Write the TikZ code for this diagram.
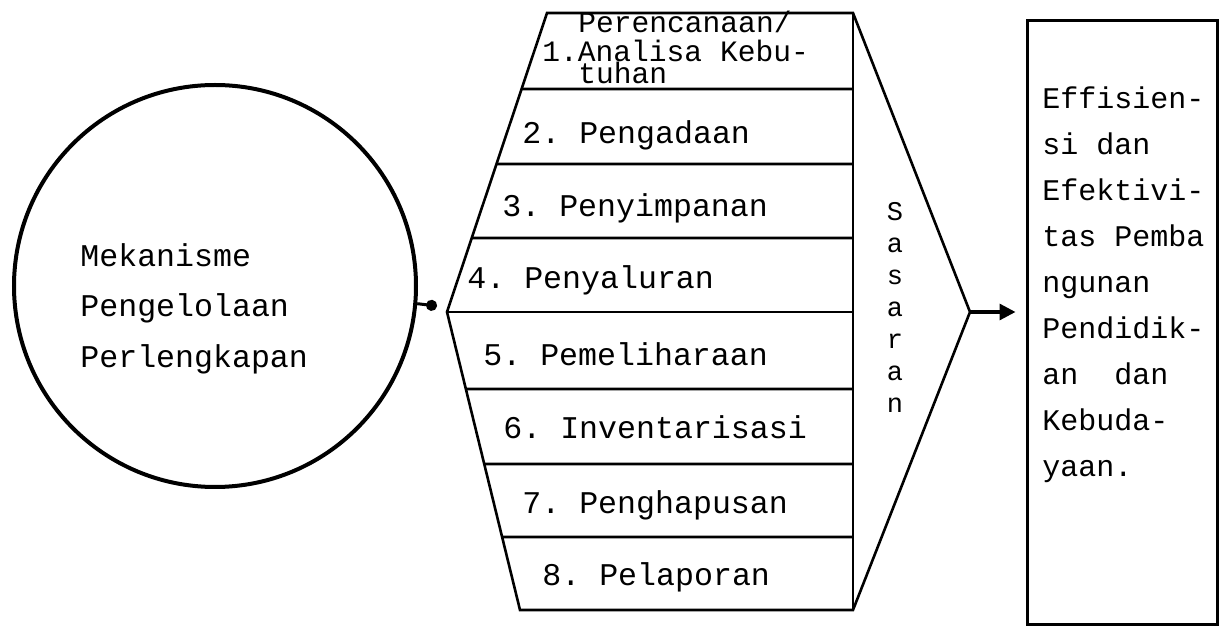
\documentclass[tikz,border=0pt]{standalone}
\usepackage{fontspec}
\setmonofont{Liberation Mono}
\usetikzlibrary{arrows.meta,calc}

\begin{document}
\begin{tikzpicture}[x=0.5pt,y=-0.5pt,
  garis/.style={line width=1.3pt},
  ketik/.style={font=\ttfamily\fontsize{15.8}{23}\selectfont,inner sep=0pt},
  langkah/.style={ketik,anchor=base west},
  sempit/.style={langkah,font=\ttfamily\fontsize{14.8}{18}\selectfont}]
  \useasboundingbox (0,0) rectangle (1228,630);
  % Lingkaran mekanisme
  \node[circle,draw,line width=2pt,minimum size=201pt,inner sep=0pt] (mekanisme) at (215,286) {};
  \node[ketik,align=left,anchor=north west,font=\ttfamily\fontsize{15.8}{25.3}\selectfont] (mekanismeteks) at (80,243)
    {Mekanisme\\Pengelolaan\\Perlengkapan};
  % Bangun segienam dengan delapan lajur
  \coordinate (tl) at (547,13);
  \coordinate (tr) at (853,13);
  \coordinate (rv) at (970,312);
  \coordinate (br) at (853,610);
  \coordinate (bl) at (520,610);
  \coordinate (lv) at (447,312);
  \draw[garis] (tl) -- (tr) -- (rv) -- (br) -- (bl) -- (lv) -- cycle;
  \draw[garis] (tr) -- (br);
  \foreach \y in {89,164,238}
    \draw[garis] ($(tl)!{(\y-13)/299}!(lv)$) -- (853,\y);
  \draw[garis] (lv) -- (853,312);
  \foreach \y in {389,464,537}
    \draw[garis] ($(lv)!{(\y-312)/298}!(bl)$) -- (853,\y);
  % Isi lajur
  \node[sempit] (langkah1a) at (578,33) {Perencanaan/};
  \node[sempit] (langkah1) at (542,62) {1.Analisa Kebu-};
  \node[sempit] (langkah1b) at (578,84) {tuhan};
  \node[langkah] (langkah2) at (522,144) {2. Pengadaan};
  \node[langkah] (langkah3) at (502,217) {3. Penyimpanan};
  \node[langkah] (langkah4) at (467,289) {4. Penyaluran};
  \node[langkah] (langkah5) at (483,366) {5. Pemeliharaan};
  \node[langkah] (langkah6) at (503,439) {6. Inventarisasi};
  \node[langkah] (langkah7) at (522,514) {7. Penghapusan};
  \node[langkah] (langkah8) at (542,586) {8. Pelaporan};
  % Sasaran, tegak
  \node[ketik,align=center,anchor=north,font=\ttfamily\fontsize{13.5}{16}\selectfont] (sasaran) at (895,202)
    {S\\a\\s\\a\\r\\a\\n};
  % Kotak hasil
  \node[draw,line width=1.5pt,minimum width=95pt,minimum height=302pt,inner sep=0pt] (hasil) at (1122,323) {};
  \node[ketik,align=left,anchor=north west,font=\ttfamily\fontsize{15}{23}\selectfont] (hasilteks) at (1042,86)
    {Effisien-\\si dan\\Efektivi-\\tas Pemba\\ngunan\\Pendidik-\\an\ \ dan\\Kebuda-\\yaan.};
  % Penghubung
  \coordinate (titik) at (437,306);
  \draw[line width=1.5pt,-{Circle[length=5.5pt]}] (mekanisme.-5.6) -- (titik);
  \draw[line width=1.6pt,-{Triangle[length=8pt,width=8pt]},shorten >=5pt] (rv) -- (rv -| hasil.west);
\end{tikzpicture}
\end{document}
